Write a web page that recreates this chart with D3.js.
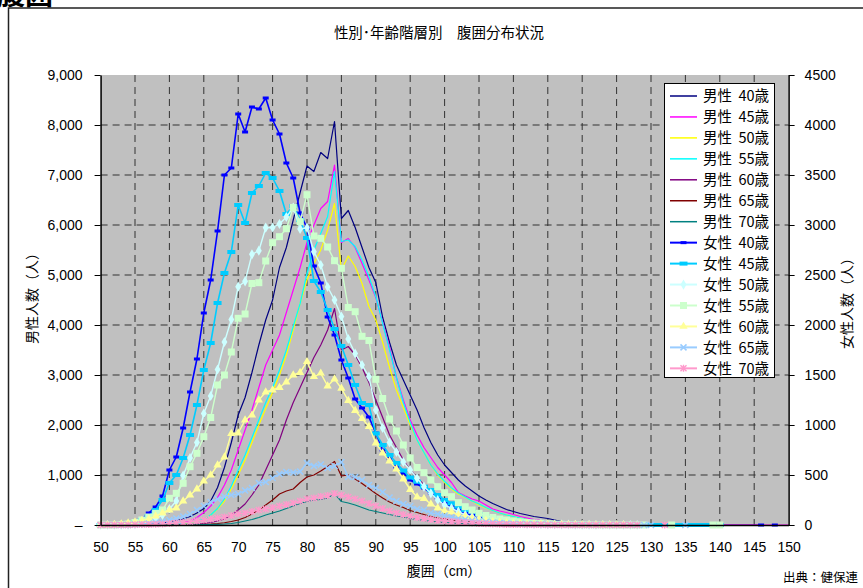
<!DOCTYPE html>
<html><head><meta charset="utf-8">
<script src="https://cdn.jsdelivr.net/npm/d3@7"></script>
<style>
html,body{margin:0;padding:0;background:#fff;}
svg{display:block;font-family:"Liberation Sans","Noto Sans CJK JP",sans-serif;}
</style></head><body>
<svg id="chart" width="863" height="588"></svg>
<script>
// 腹囲 (cm) categories, one per centimetre
const waistCm = d3.range(50, 151);
const xTicks = [50,55,60,65,70,75,80,85,90,95,100,105,110,115,120,125,130,135,140,145,150];
const maleTicks = [0,1000,2000,3000,4000,5000,6000,7000,8000,9000];
const femaleTicks = [0,500,1000,1500,2000,2500,3000,3500,4000,4500];

// 男性 counts (left axis); index 0 = 50cm
const male40 = [0,0,0,0,5,10,15,20,30,40, 60,90,120,170,240,330,480,750,1150,1650,
  2200,2550,3050,3600,4100,4500,5150,5550,6100,6650, 7180,7070,7450,7330,8070,6130,6290,5950,5550,5150,
  4850,4150,3650,3200,2900,2600,2300,1950,1650,1400, 1200,1050,900,780,680,580,500,430,370,310,
  270,230,200,170,150,130,100,70,50,40, 30,20,15,10,8,5,3,2,1,0, 0,0,0,0,0,0,0,0,0,0, 0,0,0,0,0,0,0];
const male45 = [0,0,0,0,0,2,4,6,10,15, 20,30,50,80,150,250,380,550,800,1100,
  1500,1900,2300,2750,3200,3500,3800,4250,4700,5150, 5650,6000,6330,6470,7200,5650,5730,5550,5230,4900,
  4550,4050,3550,2950,2500,2100,1800,1550,1350,1150, 1000,850,650,580,520,480,400,320,280,250,
  210,170,140,110,90,70,50,40,30,20, 15,10,8,5,3,2,1,0,0,0, 0,0,0,0,0,0,0,0,0,0, 0,0,0,0,0,0,0,0,0,0, 0];
const male50 = [0,0,0,0,0,0,2,4,6,8, 10,20,30,50,80,120,200,320,480,720,
  1000,1300,1650,2000,2330,2650,3000,3400,3900,4430, 4900,5230,5500,5900,6430,5100,5380,5170,4830,4370,
  4100,3650,3150,2700,2350,2000,1700,1450,1200,1000, 850,720,620,550,480,400,340,290,240,200,
  170,140,110,90,70,50,40,30,20,15, 10,6,4,2,1,0];
const male55 = [0,0,0,0,0,0,2,4,6,8, 12,20,35,55,80,120,200,330,520,780,
  1100,1400,1750,2100,2450,2750,3100,3500,3970,4430, 5030,5500,5830,6170,7070,5670,5700,5570,5300,4970,
  4570,4030,3500,2950,2450,2050,1700,1450,1200,1020, 870,740,640,560,480,420,350,290,240,200,
  170,140,110,90,70,50,40,30,20,15, 10,6,4,2,1,0];
const male60 = [0,0,0,0,0,0,0,0,2,3, 5,7,10,14,20,30,50,80,120,200,
  300,420,600,800,1100,1400,1700,2100,2450,2750, 3050,3350,3600,3900,4330,3500,3570,3400,3150,2850,
  2500,2150,1800,1550,1300,1100,950,800,680,570, 480,400,340,290,250,210,180,150,120,100,
  80,60,50,40,30,20,15,10,5,3, 0];
const male65 = [0,0,0,0,0,0,0,0,1,2, 3,4,5,7,10,15,20,30,45,70,
  100,150,220,300,400,500,620,680,720,850, 960,1000,1080,1170,1270,980,1000,920,830,730,
  630,540,460,400,350,290,250,210,170,140, 120,100,85,70,60,50,40,30,25,20,
  15,12,10,8,6,4,3,2,1,0];
const male70 = [0,0,0,0,0,0,0,0,0,1, 2,2,3,4,5,7,10,14,20,30,
  50,80,110,150,200,240,280,330,380,430, 470,500,510,540,630,470,440,400,350,300,
  270,240,210,180,160,130,110,90,75,60, 50,40,35,30,25,20,15,10,8,5,
  4,3,2,1,0,0];

// 女性 counts (right axis); null = blank cell
const female40 = [0,0,0,5,15,30,60,120,180,290, 550,680,970,1330,1660,2120,2450,2940,3500,3570,
  4110,3930,4180,4160,4270,4050,3910,3620,3470,3120, 2970,2590,2420,2080,1900,1650,1470,1260,1170,1080,
  920,750,670,580,520,450,410,370,320,270, 230,180,150,120,100,80,60,50,40,30,
  25,20,15,12,10,8,6,4,3,2, 1,1,0,0,0,0,0,0,0,0,
  null,null,null,null,null,null,null,0,null,null, null,null,null,null,null,null,0,null,0];
const female45 = [0,0,0,5,10,25,50,90,150,250, 420,500,670,900,1200,1550,1820,2220,2520,2730,
  3200,3020,3320,3390,3520,3470,3340,3110,3190,3050, 2870,2440,2330,2150,1960,1790,1600,1400,1220,1200,
  915,800,700,620,545,475,433,383,350,300, 250,217,183,150,133,110,90,70,55,45,
  35,28,22,17,13,10,8,6,4,3, 2,1,1,0,0,0,0,0,0,0, 0,0,0,0,0,0,0,0,0,0, 0];
const female50 = [0,0,0,0,0,5,15,30,60,100, 160,240,495,670,825,1115,1290,1555,1830,2055,
  2383,2437,2707,2743,2973,2975,3010,3080,3175,2960, 2973,2733,2600,2380,2250,2085,1860,1715,1600,1483,
  1150,970,825,730,630,550,467,383,317,250, 200,167,133,100,80,60,50,40,30,25,
  20,15,12,10,8,6,5,4,3,2, 1,1,0,0,0,0,0,0,0];
const female55 = [0,0,0,5,10,25,50,80,117,150, 267,317,417,583,717,883,1075,1400,1500,1730,
  2067,2110,2415,2423,2640,2823,2883,2963,3175,3033, 3303,2890,2867,2780,2643,2567,2175,2133,1887,1845,
  1457,1265,1060,940,800,670,575,523,450,383, 323,283,223,183,150,117,95,75,60,50,
  40,32,25,20,16,12,9,7,5,4, 3,2,1,1,0,0,0,0,0,0,
  null,null,null,0,null,null,null,null,null,0, 0];
const female60 = [0,0,5,10,20,30,45,60,90,120, 150,170,240,300,360,440,500,600,680,915,
  920,1050,1100,1250,1330,1350,1375,1430,1500,1525, 1633,1483,1517,1390,1460,1367,1245,1145,1065,985,
  820,720,640,560,460,355,280,265,210,170, 140,130,100,85,70,55,45,35,28,22,
  18,14,10,8,6,4,3,2,1,1, 0,0,0,0,0,0,0];
const female65 = [0,0,0,0,0,5,10,15,25,35, 50,65,85,110,150,190,230,260,285,300,
  310,345,370,420,430,470,510,530,525,535, 620,590,605,570,590,630,483,480,450,400,
  370,330,275,240,210,190,160,150,120,110, 95,80,65,55,45,38,30,25,20,15,
  12,10,8,6,5,4,3,2,1,1, 0,0,0,0,0,0,0,0,0,0,
  0,null,null,null,null,0];
const female70 = [0,0,0,0,0,3,4,5,8,10, 15,20,25,30,40,50,60,70,80,95,
  110,120,135,150,160,175,190,205,220,240, 260,270,285,295,315,300,280,260,240,215,
  190,165,140,120,105,90,75,65,55,45, 40,35,30,25,20,15,12,10,8,6,
  5,4,3,2,2,1,1,0,0,0, 0,0,0,0,0,0,0,0,0,null, null,null,0];

const series = [
  {name:'男性 40歳', values:male40, axis:'m', color:'#000080', width:1.2},
  {name:'男性 45歳', values:male45, axis:'m', color:'#FF00FF', width:1.2},
  {name:'男性 50歳', values:male50, axis:'m', color:'#FFFF00', width:1.2},
  {name:'男性 55歳', values:male55, axis:'m', color:'#00FFFF', width:1.2},
  {name:'男性 60歳', values:male60, axis:'m', color:'#800080', width:1.2},
  {name:'男性 65歳', values:male65, axis:'m', color:'#800000', width:1.2},
  {name:'男性 70歳', values:male70, axis:'m', color:'#008080', width:1.2},
  {name:'女性 40歳', values:female40, axis:'f', color:'#0000FF', width:1.6, marker:'bar', mw:6, mh:3},
  {name:'女性 45歳', values:female45, axis:'f', color:'#00CCFF', width:1.6, marker:'bar', mw:8, mh:4},
  {name:'女性 50歳', values:female50, axis:'f', color:'#CCFFFF', width:1.4, marker:'diamond'},
  {name:'女性 55歳', values:female55, axis:'f', color:'#CCFFCC', width:1.4, marker:'square'},
  {name:'女性 60歳', values:female60, axis:'f', color:'#FFFF99', width:1.4, marker:'triangle'},
  {name:'女性 65歳', values:female65, axis:'f', color:'#99CCFF', width:1.4, marker:'cross'},
  {name:'女性 70歳', values:female70, axis:'f', color:'#FF99CC', width:1.4, marker:'star'}
];

const svg = d3.select('#chart');
const x = d3.scaleLinear().domain([50,150]).range([100.6,788.6]);
const yM = d3.scaleLinear().domain([0,9000]).range([525,75]);
const yF = d3.scaleLinear().domain([0,4500]).range([525,75]);

// page heading (runs off the top edge) and chart frame
svg.append('text').attr('x',-3).attr('y',5).attr('font-size',28).attr('font-weight','bold')
  .attr('font-family','"Noto Sans CJK JP",sans-serif').attr('fill','#000').text('腹囲');
svg.append('rect').attr('x',8.5).attr('y',8).attr('width',880).attr('height',600)
  .attr('fill','#fff').attr('stroke','#222').attr('stroke-width',1.5);

svg.append('text').attr('x',439).attr('y',38).attr('text-anchor','middle').attr('font-size',14.5)
  .attr('font-family','"Noto Sans CJK JP",sans-serif').text('性別･年齢階層別　腹囲分布状況');

// plot area
svg.append('rect').attr('x',x(50)).attr('y',yM(9000)).attr('width',x(150)-x(50)).attr('height',yM(0)-yM(9000))
  .attr('fill','#C0C0C0');

const grid = svg.append('g').attr('stroke','#333').attr('stroke-width',1).attr('stroke-dasharray','7,5');
grid.selectAll('line.h').data(maleTicks.filter(d => d > 0 && d < 9000)).join('line')
  .attr('x1',x(50)).attr('x2',x(150)).attr('y1',d => yM(d)).attr('y2',d => yM(d));
grid.selectAll('line.v').data(xTicks.filter(d => d > 50 && d < 150)).join('line')
  .attr('y1',yM(9000)).attr('y2',yM(0)).attr('x1',d => x(d)).attr('x2',d => x(d));

// series
const plot = svg.append('g');
series.forEach(s => {
  const y = s.axis === 'm' ? yM : yF;
  const pts = waistCm.map((cm,i) => ({cm, v: s.values[i]}));
  const line = d3.line().defined(d => d.v != null).x(d => x(d.cm)).y(d => y(d.v));
  plot.append('path').datum(pts).attr('d',line).attr('fill','none')
    .attr('stroke',s.color).attr('stroke-width',s.width).attr('stroke-linejoin','round');
  if (s.marker) {
    const g = plot.append('g');
    pts.filter(d => d.v != null).forEach(d => drawMarker(g, s, x(d.cm), y(d.v)));
  }
});

function drawMarker(g, s, cx, cy) {
  const c = s.color;
  switch (s.marker) {
    case 'bar':
      g.append('rect').attr('x',cx - s.mw/2).attr('y',cy - s.mh/2).attr('width',s.mw).attr('height',s.mh).attr('fill',c);
      break;
    case 'square':
      g.append('rect').attr('x',cx-3.5).attr('y',cy-3.5).attr('width',7).attr('height',7).attr('fill',c);
      break;
    case 'diamond':
      g.append('path').attr('d',d3.symbol(d3.symbolDiamond,30)()).attr('transform',`translate(${cx},${cy})`).attr('fill',c);
      break;
    case 'triangle':
      g.append('path').attr('d',d3.symbol(d3.symbolTriangle,30)()).attr('transform',`translate(${cx},${cy})`).attr('fill',c);
      break;
    case 'cross':
      g.append('path').attr('d',`M${cx-3},${cy-3}L${cx+3},${cy+3}M${cx-3},${cy+3}L${cx+3},${cy-3}`)
        .attr('stroke',c).attr('stroke-width',1.5);
      break;
    case 'star':
      g.append('path').attr('d',`M${cx-3},${cy-3}L${cx+3},${cy+3}M${cx-3},${cy+3}L${cx+3},${cy-3}M${cx},${cy-3.5}L${cx},${cy+3.5}`)
        .attr('stroke',c).attr('stroke-width',1.4);
      break;
  }
}

// axes
const fmt = d3.format(',');
const left = svg.append('g').attr('transform',`translate(${x(50)},0)`)
  .call(d3.axisLeft(yM).tickValues(maleTicks).tickSize(6).tickSizeOuter(0).tickPadding(12)
    .tickFormat(d => d === 0 ? '–' : fmt(d)));
const right = svg.append('g').attr('transform',`translate(${x(150)},0)`)
  .call(d3.axisRight(yF).tickValues(femaleTicks).tickSize(6).tickSizeOuter(0).tickPadding(10).tickFormat(d3.format('d')));
const bottom = svg.append('g').attr('transform',`translate(0,${yM(0)})`)
  .call(d3.axisBottom(x).tickValues(xTicks).tickSize(0).tickPadding(17).tickFormat(d3.format('d')));
[left,right,bottom].forEach(a => {
  a.selectAll('text').attr('font-size',14).attr('fill','#000');
  a.select('.domain').attr('stroke','#000').attr('stroke-width',1.5);
  a.selectAll('.tick line').attr('stroke','#000');
});

svg.append('text').attr('transform','translate(37,295) rotate(-90)').attr('text-anchor','middle')
  .attr('font-size',14).text('男性人数（人）');
svg.append('text').attr('transform','translate(852,300) rotate(-90)').attr('text-anchor','middle')
  .attr('font-size',14).text('女性人数（人）');
svg.append('text').attr('x',444).attr('y',576).attr('text-anchor','middle').attr('font-size',14).text('腹囲（cm）');
svg.append('text').attr('x',783).attr('y',582).attr('font-size',12.5).text('出典：健保連');

// legend
const lg = svg.append('g');
lg.append('rect').attr('x',664.5).attr('y',83.5).attr('width',110).attr('height',294)
  .attr('fill','#fff').attr('stroke','#000').attr('stroke-width',1);
series.forEach((s,i) => {
  const cy = 96 + i*20.95;
  lg.append('line').attr('x1',670).attr('x2',697).attr('y1',cy).attr('y2',cy)
    .attr('stroke',s.color).attr('stroke-width',s.marker ? 2 : 1.5);
  if (s.marker) drawMarker(lg, s, 683.5, cy);
  lg.append('text').attr('x',703).attr('y',cy).attr('dy','0.36em').attr('font-size',14.5)
    .attr('font-family','"Noto Sans CJK JP",sans-serif').attr('xml:space','preserve').text(s.name.replace(' ', '  '));
});
</script>
</body></html>
